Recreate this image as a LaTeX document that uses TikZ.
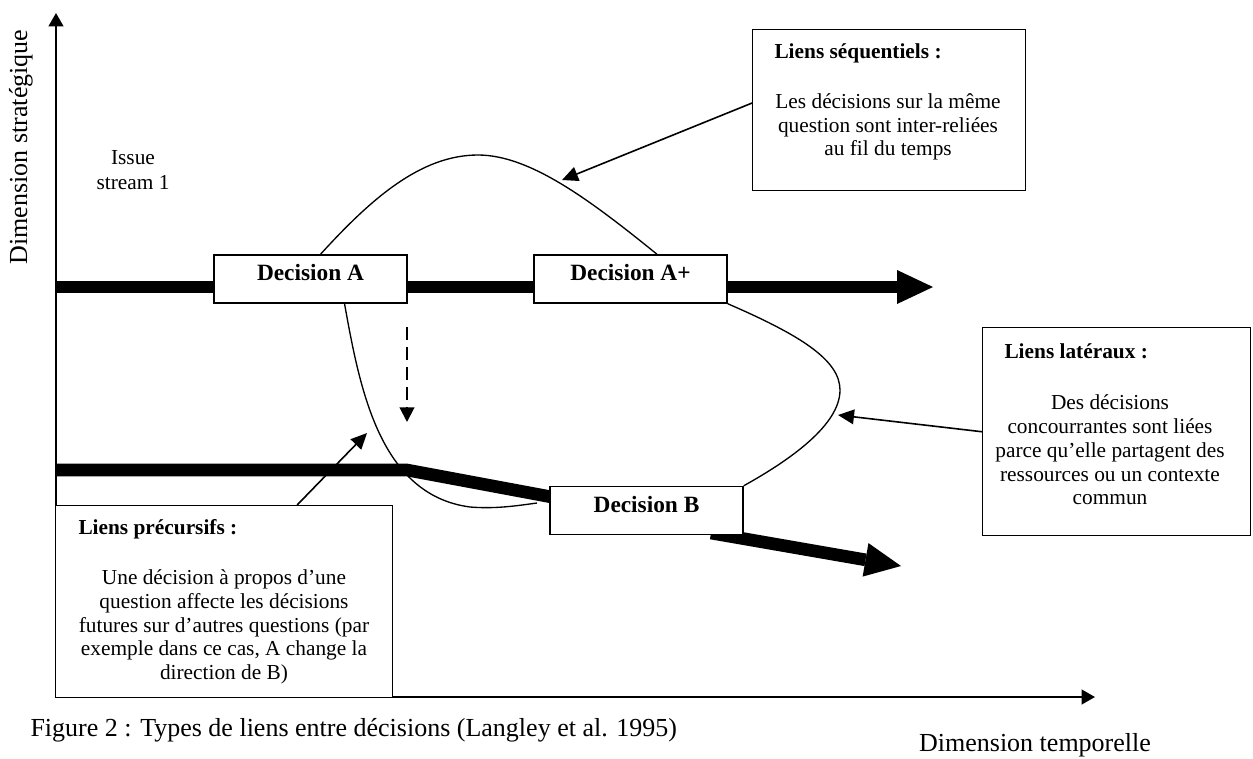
\documentclass[tikz,border=0pt]{standalone}
\usepackage{fontspec}
\setmainfont{Liberation Serif}
\usetikzlibrary{arrows.meta}

\tikzset{every picture/.style={line width=0.75pt}}
\tikzset{
  decbox/.style={draw, fill=white, line width=1.1pt, minimum width=144.75pt, minimum height=36pt, inner sep=0pt, text height=11.6pt, text depth=9pt, font=\fontsize{17.5}{20}\selectfont\bfseries},
  notebox/.style={draw, fill=white, line width=1.1pt, anchor=north west, inner sep=0pt},
  notetitle/.style={anchor=west, inner sep=0.75pt, font=\fontsize{16}{18}\selectfont\bfseries},
  notetext/.style={align=center, inner sep=0.75pt, font=\fontsize{16}{17.8}\selectfont},
  stream/.style={line width=9.5pt},
  bigtip/.style={-{Triangle[length=27pt,width=25.5pt,line width=0pt]}},
  axis/.style={line width=1.5pt, -{Triangle[length=10pt,width=11pt]}},
  linkarrow/.style={line width=1.2pt, -{Triangle[length=12pt,width=11pt]}},
  linkcurve/.style={line width=1pt},
  dashlink/.style={line width=1.5pt, dash pattern=on 10pt off 5pt, -{Triangle[length=11pt,width=11pt]}},
}

\begin{document}
\begin{tikzpicture}[x=0.75pt,y=0.75pt,yscale=-1,xscale=1]
\useasboundingbox (0,0) rectangle (1253,758);

% Axes
\coordinate (O) at (56,697);
\coordinate (ytip) at (56,13);
\coordinate (xtip) at (1095,697);
\draw [axis] (O) -- (ytip) ;
\draw [axis] (O) -- (xtip) ;

% Issue streams
\coordinate (s1start) at (56,287);
\coordinate (s1end) at (933,287);
\coordinate (s2start) at (56,470);
\coordinate (s2bend) at (407,470);
\coordinate (s2in) at (600,506);
\coordinate (s2out) at (711,533);
\coordinate (s2end) at (901,566);
\draw [stream, bigtip] (s1start) -- (s1end) ;
\draw [stream] (s2start) -- (s2bend) -- (s2in) ;
\draw [stream, bigtip] (s2out) -- (s2end) ;

% Decisions
\node [decbox] (decA) at (310.5,279) {Decision A};
\node [decbox] (decAp) at (630.5,279) {Decision A+};
\node [decbox] (decB) at (646.5,510.5) {Decision B};

% Links between decisions
\coordinate (precend) at (537,503);
\draw [linkcurve] (decA.68) .. controls (370,200) and (420,155) .. (478,155) .. controls (530,155) and (590,200) .. (decAp.43) ;
\draw [linkcurve] (decA.-36) .. controls (360,390) and (380,495) .. (470,507) .. controls (495,509) and (515,506) .. (precend) ;
\draw [linkcurve] (decAp.south east) .. controls (800,335) and (840,360) .. (840,390) .. controls (840,425) and (790,460) .. (decB.north east) ;

%Dashed arrow
\coordinate (dashtop) at (407,327);
\coordinate (dashtip) at (407,422);
\draw [dashlink] (dashtop) -- (dashtip) ;

% Note boxes
\node [notebox, minimum width=204.75pt, minimum height=120.75pt] (seqbox) at (752,29) {};
\node [notebox, minimum width=201pt, minimum height=156pt] (latbox) at (982,327) {};
\node [notebox, minimum width=252.75pt, minimum height=144pt] (precbox) at (55,505) {};

% Arrows from the notes
\coordinate (seqtip) at (562,180);
\coordinate (lattip) at (838,415);
\coordinate (prectip) at (367,433);
\draw [linkarrow] (seqbox.177) -- (seqtip) ;
\draw [linkarrow] (latbox.west) -- (lattip) ;
\draw [linkarrow] (precbox.53) -- (prectip) ;

% Text Node
\node [notetitle] (seqtitle) at (773,53) {Liens séquentiels :};
% Text Node
\node [notetext] (seqtext) at (888,127) {Les décisions sur la même\\question sont inter-reliées\\au fil du temps};
% Text Node
\node [notetitle] (lattitle) at (1003,351) {Liens latéraux :};
% Text Node
\node [notetext] (lattext) at (1110,450) {Des décisions\\concourrantes sont liées\\parce qu’elle partagent des\\ressources ou un contexte\\commun};
% Text Node
\node [notetitle] (prectitle) at (77,529) {Liens précursifs :};
% Text Node
\node [notetext] (prectext) at (224,627) {Une décision à propos d’une\\question affecte les décisions\\futures sur d’autres questions (par\\exemple dans ce cas, A change la\\direction de B)};
% Text Node
\node [align=center, inner sep=0.75pt, font=\fontsize{16}{18.75}\selectfont] (issue) at (133,170) {Issue\\stream 1};
% Text Node
\node [rotate=90, inner sep=0pt, font=\fontsize{19.5}{22}\selectfont] (ylabel) at (21,147) {Dimension stratégique};
% Text Node
\node [anchor=base, inner sep=0pt, font=\fontsize{19.5}{22}\selectfont] (xlabel) at (1035,751) {Dimension temporelle};
% Text Node
\node [anchor=base west, inner sep=0pt, font=\fontsize{19.5}{22}\selectfont] (caption) at (30,736) {Figure 2 : Types de liens entre décisions (Langley et al. 1995)};

\end{tikzpicture}
\end{document}
